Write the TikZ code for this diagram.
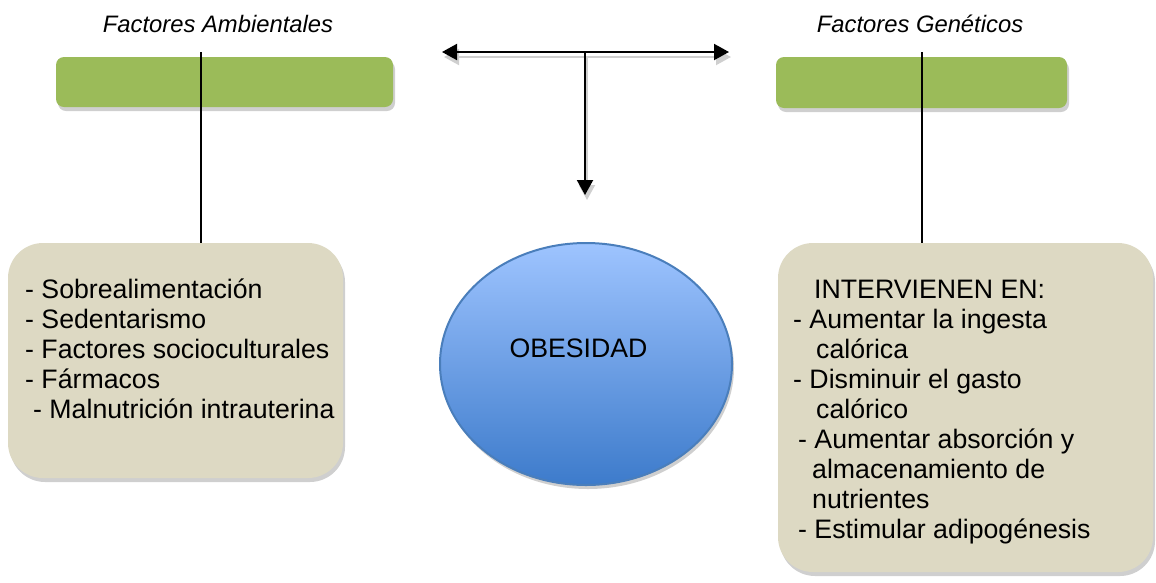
\documentclass[tikz,border=0pt]{standalone}
\usepackage{fontspec}
\setmainfont{Liberation Sans}
\usetikzlibrary{arrows.meta,shapes.geometric,shadows,calc}
\definecolor{bargreen}{HTML}{9BBB59}
\definecolor{boxbeige}{HTML}{DDD9C3}
\definecolor{elltop}{HTML}{9EC4FF}
\definecolor{ellbot}{HTML}{3D7BCB}
\definecolor{ellline}{HTML}{4A7EBB}
\definecolor{shadowgray}{HTML}{CFCFCF}
\newcommand\bodyfnt{\fontsize{26.7}{30}\selectfont}
\newcommand\titlefnt{\fontsize{23.8}{28}\selectfont\itshape}
\tikzset{
  softshadow/.style={drop shadow={shadow xshift=2pt, shadow yshift=-4pt, fill=shadowgray, opacity=1}},
  greenbar/.style={fill=bargreen, draw=none, rounded corners=8pt, softshadow, inner sep=0pt},
  beigebox/.style={fill=boxbeige, draw=none, rounded corners=35pt, softshadow, inner sep=0pt},
  obeell/.style={ellipse, draw=ellline, line width=2pt, top color=elltop, bottom color=ellbot, softshadow, inner sep=0pt},
  titletext/.style={font=\titlefnt, anchor=base, inner sep=0pt},
  bodytext/.style={font=\bodyfnt, anchor=base west, inner sep=0pt},
  conn/.style={line width=2pt, black},
  connshadow/.style={line width=2pt, shadowgray},
  tip/.style={-{Triangle[length=15pt,width=16pt]}},
  tips/.style={{Triangle[length=15pt,width=16pt]}-{Triangle[length=15pt,width=16pt]}},
}
\begin{document}
\begin{tikzpicture}[x=1pt,y=-1pt]
\useasboundingbox (0,0) rectangle (1156,582);

% titles
\node[titletext] (tamb) at (218,32) {Factores Ambientales};
\node[titletext] (tgen) at (920,32) {Factores Genéticos};

% green bars
\node[greenbar, minimum width=337pt, minimum height=50pt] (gl) at (224.5,82) {};
\node[greenbar, minimum width=291pt, minimum height=51pt] (gr) at (921.5,82.5) {};

% beige boxes
\node[beigebox, minimum width=335pt, minimum height=235pt] (lb) at (175.5,360.5) {};
\node[beigebox, minimum width=375pt, minimum height=329pt] (rb) at (965.5,407.5) {};

% ellipse
\node[obeell, minimum width=292pt, minimum height=242pt] (ob) at (586,364) {};
\node[font=\bodyfnt, anchor=base, inner sep=0pt] (obt) at (578.5,357) {OBESIDAD};

% coordinates for connectors
\coordinate (tl) at (201,52);
\coordinate (tr) at (922,52);
\coordinate (al) at (442,52);
\coordinate (ar) at (729,52);
\coordinate (am) at (585,52);
\coordinate (ad) at (585,195);

% vertical connectors
\draw[conn] (tl) -- (tl |- lb.north);
\draw[conn] (tr) -- (tr |- rb.north);

% arrow shadows
\draw[connshadow, tips] ($(al)+(2,5)$) -- ($(ar)+(2,5)$);
\draw[connshadow, tip] ($(am)+(2,5)$) -- ($(ad)+(2,5)$);
% arrows
\draw[conn, tips] (al) -- (ar);
\draw[conn, tip] (am) -- (ad);

% texts
\node[bodytext] (lt) at (25,298) {\begin{tabular}[t]{@{}l@{}}
- Sobrealimentación\\
- Sedentarismo\\
- Factores socioculturales\\
- Fármacos\\
\hspace*{8pt}- Malnutrición intrauterina
\end{tabular}};

\node[bodytext] (rt) at (793,298) {\begin{tabular}[t]{@{}l@{}}
\hspace*{21pt}INTERVIENEN EN:\\
- Aumentar la ingesta\\
\hspace*{23pt}calórica\\
- Disminuir el gasto\\
\hspace*{23pt}calórico\\
\hspace*{5pt}- Aumentar absorción y\\
\hspace*{19pt}almacenamiento de\\
\hspace*{19pt}nutrientes\\
\hspace*{5pt}- Estimular adipogénesis
\end{tabular}};
\end{tikzpicture}
\end{document}
